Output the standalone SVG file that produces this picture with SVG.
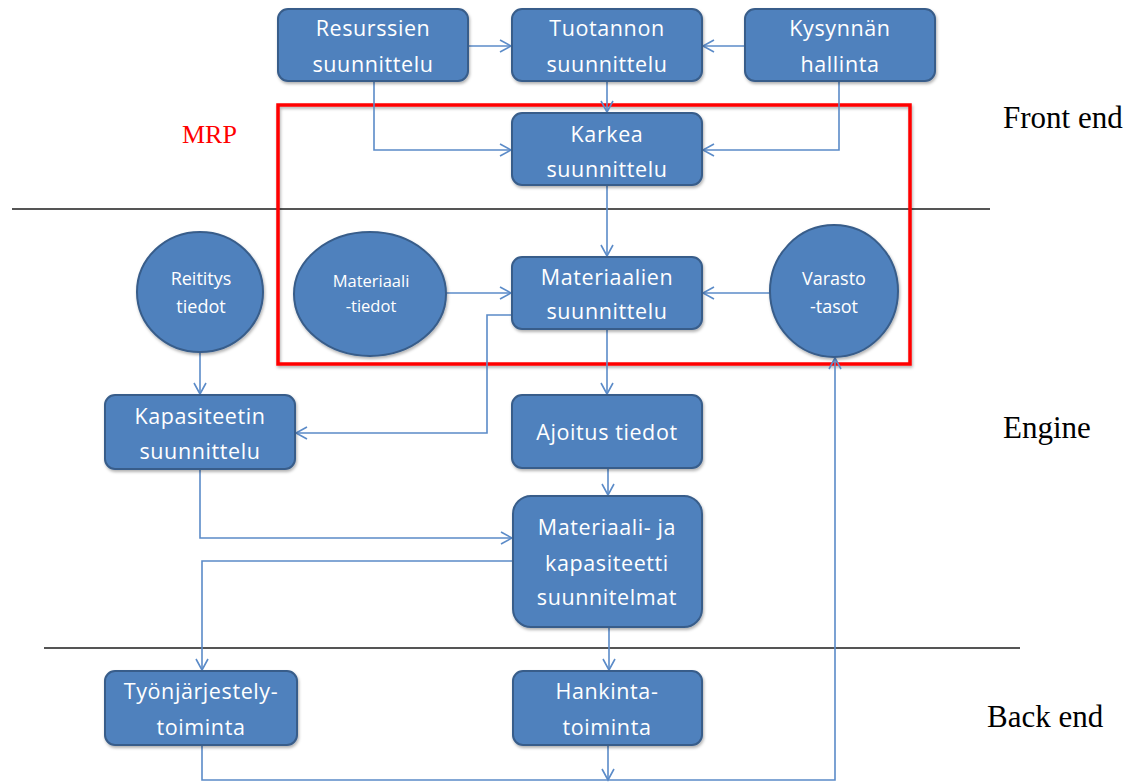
<svg xmlns="http://www.w3.org/2000/svg" width="1133" height="782" viewBox="0 0 1133 782">
<style>
.n{fill:#4F81BD;stroke:#385D8A;stroke-width:2;filter:url(#sh)}
.t{fill:#fff;font-family:"Open Sans","Liberation Sans",sans-serif;font-size:21.5px;letter-spacing:0.6px;text-anchor:middle}
.ts{font-size:18px;letter-spacing:0}
.tx{font-size:16.5px;letter-spacing:0}
.c{fill:none;stroke:#5B8BC8;stroke-width:1.6;marker-end:url(#ah)}
.sep{stroke:#555;stroke-width:2.2}
.lab{font-family:"Liberation Serif","Times New Roman",serif;font-size:31px;fill:#000}
</style>
<defs>
<filter id="sh" x="-10%" y="-10%" width="130%" height="130%">
<feDropShadow dx="1" dy="2" stdDeviation="1.5" flood-color="#000" flood-opacity="0.3"/>
</filter>
<marker id="ah" markerUnits="userSpaceOnUse" markerWidth="14" markerHeight="14" viewBox="0 0 14 14" refX="12" refY="7" orient="auto">
<path d="M1,1 L12,7 L1,13" fill="none" stroke="#5B8BC8" stroke-width="1.6"/>
</marker>
</defs>
<rect width="1133" height="782" fill="#fff"/>

<line class="sep" x1="12" y1="209" x2="990" y2="209"/>
<line class="sep" x1="44" y1="648" x2="1020" y2="648"/>

<rect x="278" y="105" width="632" height="259" fill="none" stroke="#FF0000" stroke-width="3.5" filter="url(#sh)"/>
<text x="182" y="143" font-family="'Liberation Serif',serif" font-size="26" fill="#FF0000">MRP</text>

<text class="lab" x="1003" y="128">Front end</text>
<text class="lab" x="1003" y="438">Engine</text>
<text class="lab" x="987" y="727">Back end</text>

<g id="connectors">
<path class="c" d="M468,46 H511"/>
<path class="c" d="M745,46 H703"/>
<path class="c" d="M607,81 V112"/>
<path class="c" d="M374,81 V150 H511"/>
<path class="c" d="M839,81 V150 H703"/>
<path class="c" d="M607,185 V256"/>
<path class="c" d="M446,293 H511"/>
<path class="c" d="M770,293 H703"/>
<path class="c" d="M512,315 H487 V433 H296"/>
<path class="c" d="M200,352 V394"/>
<path class="c" d="M607,329 V394"/>
<path class="c" d="M608,468 V495"/>
<path class="c" d="M200,469 V538 H512"/>
<path class="c" d="M513,561 H202 V670"/>
<path class="c" d="M609,627 V670"/>
<path class="c" d="M608,745 V780"/>
<path class="c" d="M202,745 V780 H835 V358"/>
</g>

<g id="resurssien"><rect class="n" x="278" y="9" width="190" height="72" rx="10"/><text class="t" x="373" y="36">Resurssien</text><text class="t" x="373" y="72">suunnittelu</text></g>
<g id="tuotannon"><rect class="n" x="512" y="9" width="190" height="72" rx="10"/><text class="t" x="607" y="36">Tuotannon</text><text class="t" x="607" y="72">suunnittelu</text></g>
<g id="kysynnan"><rect class="n" x="745" y="9" width="190" height="72" rx="10"/><text class="t" x="840" y="36">Kysynnän</text><text class="t" x="840" y="72">hallinta</text></g>
<g id="karkea"><rect class="n" x="512" y="113" width="190" height="72" rx="10"/><text class="t" x="607" y="142">Karkea</text><text class="t" x="607" y="177">suunnittelu</text></g>
<g id="materiaalien"><rect class="n" x="512" y="257" width="190" height="72" rx="10"/><text class="t" x="607" y="285">Materiaalien</text><text class="t" x="607" y="319">suunnittelu</text></g>
<g id="reititys"><ellipse class="n" cx="200" cy="292" rx="63" ry="60"/><text class="t ts" x="201" y="285">Reititys</text><text class="t ts" x="201" y="313">tiedot</text></g>
<g id="materiaalitiedot"><ellipse class="n" cx="370" cy="294" rx="76" ry="62"/><text class="t tx" x="371" y="287">Materiaali</text><text class="t tx" x="371" y="312">-tiedot</text></g>
<g id="varasto"><ellipse class="n" cx="834" cy="291" rx="64" ry="66"/><text class="t ts" x="834" y="285">Varasto</text><text class="t ts" x="834" y="313">-tasot</text></g>
<g id="kapasiteetin"><rect class="n" x="105" y="395" width="190" height="74" rx="10"/><text class="t" x="200" y="424">Kapasiteetin</text><text class="t" x="200" y="459">suunnittelu</text></g>
<g id="ajoitus"><rect class="n" x="512" y="395" width="190" height="73" rx="10"/><text class="t" x="607" y="440">Ajoitus tiedot</text></g>
<g id="suunnitelmat"><rect class="n" x="513" y="496" width="189" height="131" rx="18"/><text class="t" x="607" y="535">Materiaali- ja</text><text class="t" x="607" y="571">kapasiteetti</text><text class="t" x="607" y="605">suunnitelmat</text></g>
<g id="tyonjarjestely"><rect class="n" x="105" y="671" width="192" height="74" rx="10"/><text class="t" x="201" y="699">Työnjärjestely-</text><text class="t" x="201" y="735">toiminta</text></g>
<g id="hankinta"><rect class="n" x="513" y="671" width="189" height="74" rx="10"/><text class="t" x="607" y="699">Hankinta-</text><text class="t" x="607" y="735">toiminta</text></g>
</svg>
